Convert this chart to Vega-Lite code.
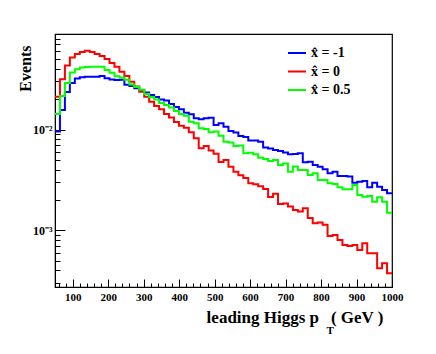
{
  "$schema": "https://vega.github.io/schema/vega-lite/v6.json",
  "width": 337,
  "height": 253,
  "autosize": "none",
  "padding": {"left": 55, "top": 34, "right": 44, "bottom": 67},
  "background": "white",
  "config": {
    "view": {"stroke": "black", "strokeWidth": 1.2},
    "axis": {"domainColor": "black", "tickColor": "black", "labelColor": "black", "titleColor": "black", "grid": false, "labelFont": "Liberation Serif", "labelFontWeight": "bold", "labelFontSize": 11, "titleFont": "Liberation Serif", "titleFontWeight": "bold"}
  },
  "data": {"values": [
    {"x": 50, "a": 0.00955, "b": 0.0212, "c": 0.01425},
    {"x": 63.97, "a": 0.0156, "b": 0.0315, "c": 0.0215},
    {"x": 77.94, "a": 0.0236, "b": 0.0432, "c": 0.029},
    {"x": 91.91, "a": 0.029, "b": 0.0519, "c": 0.0368},
    {"x": 105.88, "a": 0.0321, "b": 0.0562, "c": 0.0396},
    {"x": 119.85, "a": 0.033, "b": 0.0588, "c": 0.0413},
    {"x": 133.82, "a": 0.0335, "b": 0.0606, "c": 0.0418},
    {"x": 147.79, "a": 0.0335, "b": 0.0588, "c": 0.042},
    {"x": 161.76, "a": 0.0335, "b": 0.0562, "c": 0.042},
    {"x": 175.74, "a": 0.034, "b": 0.0537, "c": 0.042},
    {"x": 189.71, "a": 0.0322, "b": 0.0501, "c": 0.039},
    {"x": 203.68, "a": 0.0314, "b": 0.0458, "c": 0.0366},
    {"x": 217.65, "a": 0.031, "b": 0.042, "c": 0.0338},
    {"x": 231.62, "a": 0.0312, "b": 0.0375, "c": 0.0328},
    {"x": 245.59, "a": 0.0279, "b": 0.034, "c": 0.0312},
    {"x": 259.56, "a": 0.027, "b": 0.0298, "c": 0.028},
    {"x": 273.53, "a": 0.0257, "b": 0.0267, "c": 0.0264},
    {"x": 287.5, "a": 0.0247, "b": 0.0237, "c": 0.0248},
    {"x": 301.47, "a": 0.0233, "b": 0.0212, "c": 0.0225},
    {"x": 315.44, "a": 0.022, "b": 0.0189, "c": 0.021},
    {"x": 329.41, "a": 0.021, "b": 0.0171, "c": 0.0199},
    {"x": 343.38, "a": 0.0199, "b": 0.0159, "c": 0.0183},
    {"x": 357.35, "a": 0.0194, "b": 0.01425, "c": 0.0175},
    {"x": 371.32, "a": 0.0179, "b": 0.01316, "c": 0.01654},
    {"x": 385.29, "a": 0.0167, "b": 0.01187, "c": 0.01526},
    {"x": 399.26, "a": 0.0159, "b": 0.01091, "c": 0.01425},
    {"x": 413.24, "a": 0.0147, "b": 0.01042, "c": 0.01371},
    {"x": 427.21, "a": 0.01415, "b": 0.00938, "c": 0.01195},
    {"x": 441.18, "a": 0.0129, "b": 0.00818, "c": 0.01152},
    {"x": 455.15, "a": 0.01263, "b": 0.00651, "c": 0.01028},
    {"x": 469.12, "a": 0.0129, "b": 0.00686, "c": 0.0101},
    {"x": 483.09, "a": 0.0131, "b": 0.00619, "c": 0.00938},
    {"x": 497.06, "a": 0.01108, "b": 0.00575, "c": 0.00955},
    {"x": 511.03, "a": 0.01152, "b": 0.00476, "c": 0.00868},
    {"x": 525, "a": 0.01066, "b": 0.00498, "c": 0.00757},
    {"x": 538.97, "a": 0.00966, "b": 0.00427, "c": 0.00743},
    {"x": 552.94, "a": 0.00934, "b": 0.00381, "c": 0.00686},
    {"x": 566.91, "a": 0.00862, "b": 0.00351, "c": 0.00694},
    {"x": 580.88, "a": 0.00842, "b": 0.0033, "c": 0.0058},
    {"x": 594.85, "a": 0.00778, "b": 0.00292, "c": 0.00588},
    {"x": 608.82, "a": 0.00778, "b": 0.00286, "c": 0.00567},
    {"x": 622.79, "a": 0.00757, "b": 0.00273, "c": 0.00525},
    {"x": 636.76, "a": 0.00663, "b": 0.00257, "c": 0.00509},
    {"x": 650.74, "a": 0.00648, "b": 0.00214, "c": 0.00487},
    {"x": 664.71, "a": 0.00626, "b": 0.0023, "c": 0.00498},
    {"x": 678.68, "a": 0.00612, "b": 0.00182, "c": 0.00444},
    {"x": 692.65, "a": 0.00591, "b": 0.00184, "c": 0.0046},
    {"x": 706.62, "a": 0.00567, "b": 0.00172, "c": 0.00381},
    {"x": 720.59, "a": 0.00571, "b": 0.00159, "c": 0.00429},
    {"x": 734.56, "a": 0.0058, "b": 0.00153, "c": 0.00396},
    {"x": 748.53, "a": 0.00472, "b": 0.00165, "c": 0.00396},
    {"x": 762.5, "a": 0.00479, "b": 0.00132, "c": 0.00353},
    {"x": 776.47, "a": 0.00444, "b": 0.00117, "c": 0.00367},
    {"x": 790.44, "a": 0.00427, "b": 0.00119, "c": 0.00315},
    {"x": 804.41, "a": 0.00403, "b": 0.00113, "c": 0.00315},
    {"x": 818.38, "a": 0.00367, "b": 0.000876, "c": 0.00292},
    {"x": 832.35, "a": 0.00381, "b": 0.000896, "c": 0.00288},
    {"x": 846.32, "a": 0.00345, "b": 0.000799, "c": 0.00267},
    {"x": 860.29, "a": 0.00345, "b": 0.000713, "c": 0.00255},
    {"x": 874.26, "a": 0.00341, "b": 0.000697, "c": 0.00255},
    {"x": 888.24, "a": 0.00296, "b": 0.000713, "c": 0.00281},
    {"x": 902.21, "a": 0.00303, "b": 0.000636, "c": 0.00224},
    {"x": 916.18, "a": 0.00308, "b": 0.000741, "c": 0.00215},
    {"x": 930.15, "a": 0.00267, "b": 0.00059, "c": 0.00219},
    {"x": 944.12, "a": 0.00296, "b": 0.00059, "c": 0.00192},
    {"x": 958.09, "a": 0.0027, "b": 0.000418, "c": 0.00212},
    {"x": 972.06, "a": 0.00251, "b": 0.000469, "c": 0.00192},
    {"x": 986.03, "a": 0.00233, "b": 0.000373, "c": 0.00149},
    {"x": 1000, "a": 0.00233, "b": 0.000373, "c": 0.00149}
  ]},
  "transform": [{"fold": ["a", "b", "c"], "as": ["series", "value"]}],
  "layer": [
    {
      "mark": {"type": "line", "interpolate": "step-after", "strokeWidth": 2, "clip": true},
      "encoding": {
        "x": {"field": "x", "type": "quantitative",
          "scale": {"domain": [50, 1000], "nice": false, "zero": false},
          "axis": {"values": [60, 80, 100, 120, 140, 160, 180, 200, 220, 240, 260, 280, 300, 320, 340, 360, 380, 400, 420, 440, 460, 480, 500, 520, 540, 560, 580, 600, 620, 640, 660, 680, 700, 720, 740, 760, 780, 800, 820, 840, 860, 880, 900, 920, 940, 960, 980, 1000],
            "tickSize": {"condition": {"test": "datum.value % 100 == 0", "value": -8}, "value": -4},
            "labelExpr": "datum.value % 100 == 0 ? format(datum.value, 'd') : ''",
            "labelPadding": 12, "tickWidth": 1, "labelFlush": false, "labelOverlap": false,
            "title": "leading Higgs p\u2002\u2009( GeV )", "titleFontSize": 17, "titleX": 328, "titleY": 35, "titleAlign": "right", "titleBaseline": "alphabetic", "titleAnchor": null}},
        "y": {"field": "value", "type": "quantitative",
          "scale": {"type": "log", "domain": [0.000273, 0.0888], "nice": false},
          "axis": {"values": [0.0003, 0.0004, 0.0005, 0.0006, 0.0007, 0.0008, 0.0009, 0.001, 0.002, 0.003, 0.004, 0.005, 0.006, 0.007, 0.008, 0.009, 0.01, 0.02, 0.03, 0.04, 0.05, 0.06, 0.07, 0.08],
            "tickSize": {"condition": {"test": "datum.value == 0.01 || datum.value == 0.001", "value": -10}, "value": -5},
            "labelExpr": "datum.value == 0.001 ? '10⁻³' : datum.value == 0.01 ? '10⁻²' : ''",
            "labelPadding": 13, "labelFontSize": 12, "tickWidth": 1, "labelOverlap": false, "labelFlush": false,
            "title": "Events", "titleFontSize": 16, "titleAngle": -90, "titleX": -25, "titleY": 11, "titleAlign": "right", "titleBaseline": "alphabetic", "titleAnchor": null}},
        "color": {"field": "series", "type": "nominal",
          "scale": {"domain": ["a", "b", "c"], "range": ["#0000ff", "#ff0000", "#00ff00"]},
          "legend": {"orient": "none", "legendX": 232, "legendY": 9, "title": null, "padding": 0,
            "symbolType": "stroke", "symbolSize": 324, "symbolStrokeWidth": 2, "labelOffset": 4,
            "labelFont": "Liberation Serif", "labelFontWeight": "bold", "labelFontSize": 14, "labelColor": "black", "rowPadding": 1.5,
            "labelExpr": "datum.label == 'a' ? 'x̂ = -1' : datum.label == 'b' ? 'x̂ = 0' : 'x̂ = 0.5'"}}
      }
    },
    {
      "mark": {"type": "line", "opacity": 0, "clip": true},
      "encoding": {
        "x": {"field": "x", "type": "quantitative",
          "axis": {"orient": "top", "ticks": false, "labels": false, "domain": false,
            "title": "T", "titleFontSize": 11, "titleX": 271, "titleY": 299, "titleAlign": "left", "titleBaseline": "alphabetic", "titleAnchor": null}}
      }
    }
  ],
  "resolve": {"axis": {"x": "independent"}}
}
